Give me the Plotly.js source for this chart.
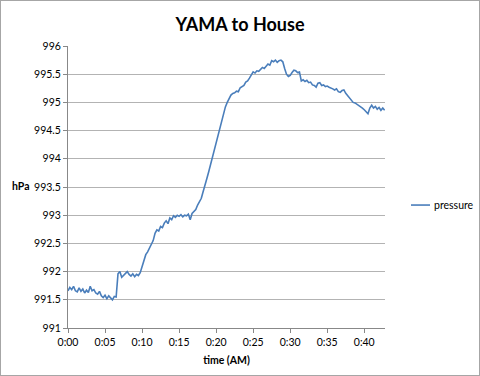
<!DOCTYPE html>
<html><head><meta charset="utf-8">
<script src="https://cdn.plot.ly/plotly-3.0.1.min.js"></script>
<style>html,body{margin:0;padding:0;background:#fff}#c{width:480px;height:376px}#b{position:absolute;left:0;top:0;width:478px;height:374px;border:1px solid #a6a6a6;pointer-events:none}</style>
</head><body><div id="c"></div><div id="b"></div>
<script>
const minutes = [0,0.25,0.5,0.75,1,1.25,1.5,1.75,2,2.25,2.5,2.75,3,3.25,3.5,3.75,4,4.25,4.5,4.75,5,5.25,5.5,5.75,6,6.25,6.5,6.75,7,7.25,7.5,7.75,8,8.25,8.5,8.75,9,9.25,9.5,9.75,10,10.25,10.5,10.75,11,11.25,11.5,11.75,12,12.25,12.5,12.75,13,13.25,13.5,13.75,14,14.25,14.5,14.75,15,15.25,15.5,15.75,16,16.25,16.5,16.75,17,17.25,17.5,17.75,18,18.25,18.5,18.75,19,19.25,19.5,19.75,20,20.25,20.5,20.75,21,21.25,21.5,21.75,22,22.25,22.5,22.75,23,23.25,23.5,23.75,24,24.25,24.5,24.75,25,25.25,25.5,25.75,26,26.25,26.5,26.75,27,27.25,27.5,27.75,28,28.25,28.5,28.75,29,29.25,29.5,29.75,30,30.25,30.5,30.75,31,31.25,31.5,31.75,32,32.25,32.5,32.75,33,33.25,33.5,33.75,34,34.25,34.5,34.75,35,35.25,35.5,35.75,36,36.25,36.5,36.75,37,37.25,37.5,37.75,38,38.25,38.5,38.75,39,39.25,39.5,39.75,40,40.25,40.5,40.75,41,41.25,41.5,41.75,42,42.25,42.5,42.75];
const pressure = [991.66,991.72,991.68,991.74,991.66,991.64,991.71,991.65,991.69,991.62,991.67,991.63,991.74,991.66,991.68,991.62,991.60,991.65,991.57,991.54,991.58,991.52,991.57,991.54,991.50,991.56,991.55,991.96,992.00,991.90,991.93,991.97,992.00,991.95,991.92,991.96,991.91,991.95,991.93,991.98,992.10,992.20,992.30,992.35,992.42,992.50,992.55,992.68,992.74,992.72,992.80,992.78,992.86,992.90,992.85,992.95,992.92,992.99,992.96,993.00,992.98,993.01,992.97,993.00,992.99,993.02,992.92,993.03,993.06,993.10,993.18,993.24,993.30,993.42,993.52,993.65,993.77,993.90,994.02,994.16,994.28,994.42,994.55,994.68,994.82,994.92,995.00,995.08,995.13,995.16,995.17,995.20,995.19,995.26,995.28,995.30,995.36,995.38,995.43,995.50,995.54,995.52,995.56,995.55,995.59,995.62,995.60,995.65,995.68,995.66,995.74,995.72,995.75,995.71,995.74,995.75,995.72,995.60,995.50,995.46,995.48,995.53,995.57,995.56,995.53,995.54,995.38,995.40,995.37,995.39,995.35,995.36,995.31,995.30,995.27,995.34,995.35,995.30,995.31,995.28,995.29,995.27,995.26,995.24,995.22,995.24,995.19,995.18,995.21,995.22,995.16,995.12,995.08,995.04,995.00,994.99,994.97,994.95,994.92,994.90,994.87,994.83,994.80,994.90,994.95,994.90,994.93,994.88,994.91,994.86,994.90,994.86];
const xTickVals = [0,5,10,15,20,25,30,35,40];
const xTickText = ['0:00','0:05','0:10','0:15','0:20','0:25','0:30','0:35','0:40'];
const yTickVals = [991,991.5,992,992.5,993,993.5,994,994.5,995,995.5,996];
const yTickText = ['991','991.5','992','992.5','993','993.5','994','994.5','995','995.5','996'];
const seriesName = 'pressure';
const lineColor = '#4a7ebb';

const fontFam = 'Lato, "Open Sans", sans-serif';
Plotly.newPlot('c', [{
  x: minutes, y: pressure, type: 'scatter', mode: 'lines', name: seriesName,
  line: {color: lineColor, width: 1.6}
}], {
  width: 480, height: 376,
  margin: {l: 68, r: 95, t: 46, b: 48},
  paper_bgcolor: '#fff', plot_bgcolor: '#fff',
  font: {family: fontFam, size: 10.5, color: '#000'},
  title: {text: '<b>YAMA to House</b>', font: {family: fontFam, size: 18, color: '#000'}, x: 0.5, xanchor: 'center', y: 0.935, yanchor: 'middle'},
  xaxis: {range: [0, 42.8], tickvals: xTickVals, ticktext: xTickText, showgrid: false, zeroline: false,
    showline: true, linecolor: '#888', linewidth: 1, ticks: 'outside', ticklen: 4, tickcolor: '#888',
    title: {text: '<b>time (AM)</b>', font: {family: fontFam, size: 10.5}, standoff: 10}},
  yaxis: {range: [991, 996], tickvals: yTickVals, ticktext: yTickText, showgrid: true, gridcolor: '#b3b3b3', gridwidth: 1,
    zeroline: false, showline: true, linecolor: '#888', linewidth: 1, ticks: 'outside', ticklen: 4, tickcolor: '#888'},
  showlegend: false,
  shapes: [{type: 'line', xref: 'paper', yref: 'paper', x0: 1.082, x1: 1.142, y0: 0.436, y1: 0.436, line: {color: lineColor, width: 1.6}}],
  annotations: [
    {text: '<b>hPa</b>', xref: 'paper', yref: 'paper', x: -0.118, y: 0.503, xanchor: 'right', yanchor: 'middle', showarrow: false, font: {family: fontFam, size: 10.5}},
    {text: seriesName, xref: 'paper', yref: 'paper', x: 1.147, y: 0.436, xanchor: 'left', yanchor: 'middle', showarrow: false, font: {family: fontFam, size: 10.5}}
  ]
}, {staticPlot: true});
</script></body></html>
